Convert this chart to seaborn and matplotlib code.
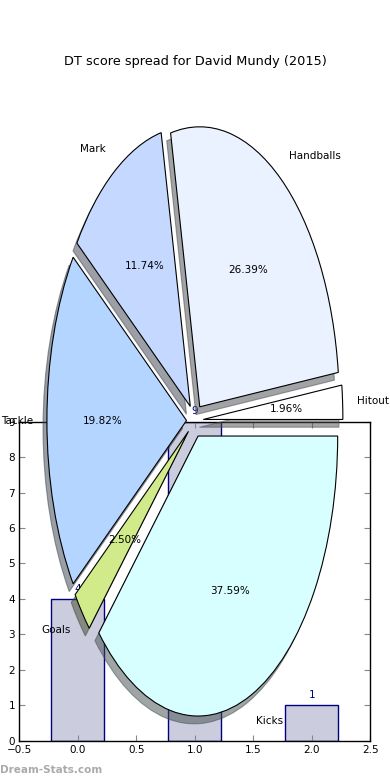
import matplotlib
matplotlib.use("Agg")
import matplotlib.pyplot as plt
import seaborn as sns
import pandas as pd

# ---- data ----
title = "DT score spread for David Mundy (2015)"
pie_labels = ["Hitout", "Handballs", "Mark", "Tackle", "Goals", "Kicks"]
pie_values = [1.96, 26.39, 11.74, 19.82, 2.50, 37.59]
pie_colors = ["#ffffff", "#eaf1ff", "#c5d8ff", "#b4d5ff", "#d1eb8b", "#d8ffff"]
pie_explode = [0.06, 0.06, 0.06, 0.06, 0.06, 0.06]

bar_x = [0, 1, 2]
bar_values = [4, 9, 1]
x_ticks = [-0.5, 0.0, 0.5, 1.0, 1.5, 2.0, 2.5]
y_ticks = [0, 1, 2, 3, 4, 5, 6, 7, 8, 9]
watermark = "Dream-Stats.com"

FS = 7.5
W, H = 390, 780
fig = plt.figure(figsize=(W / 100, H / 100), dpi=100)

# ---- bar axes (underneath) ----
axb = fig.add_axes([19.3 / W, (H - 740.7) / H, 351 / W, 319 / H])
df = pd.DataFrame({"x": bar_x, "v": bar_values})
sns.barplot(data=df, x="x", y="v", ax=axb, width=0.45, color="#ccccdf",
            edgecolor="#000080", linewidth=1.0, saturation=1, native_scale=True)
for xv, v in zip(bar_x, bar_values):
    axb.text(xv, v + 0.29, str(v), ha="center", va="center", color="#000080",
             fontsize=FS)
axb.set_xlim(-0.5, 2.5)
axb.set_ylim(0, 9)
axb.set_xticks(x_ticks)
axb.set_xticklabels([f"{t:.1f}".replace("-", "\u2212") for t in x_ticks], fontsize=FS)
axb.set_yticks(y_ticks)
axb.set_yticklabels([str(t) for t in y_ticks], fontsize=FS)
axb.set_xlabel("")
axb.set_ylabel("")
axb.tick_params(direction="in", top=True, right=True, length=4, width=0.8,
                color="#888888", pad=3)
for s in axb.spines.values():
    s.set_color("black")
    s.set_linewidth(1.0)

# ---- pie axes (on top) ----
axp = fig.add_axes([0, 13 / H, 1, 693 / H])
axp.patch.set_alpha(0)
wedges, texts, autotexts = axp.pie(
    pie_values, labels=pie_labels, colors=pie_colors, explode=pie_explode,
    autopct="%1.2f%%", shadow=True, startangle=0, counterclock=True,
    wedgeprops=dict(edgecolor="black", linewidth=0.8),
    textprops=dict(fontsize=FS, color="black"))
rx, ry, cx = 139.6, 280.0, 194.9
axp.set_aspect("auto")
axp.set_xlim(-cx / rx, (W - cx) / rx)
axp.set_ylim(-346.5 / ry, 346.5 / ry)
axp.axis("off")

fig.text(0.5, 1 - 61 / H, title, ha="center", va="center", fontsize=9.3)
fig.text(0.0, 1 - 770 / H, watermark, ha="left", va="center", fontsize=7.5,
         color="#aaaaaa", fontweight="bold")

fig.savefig("out.png", dpi=100)
